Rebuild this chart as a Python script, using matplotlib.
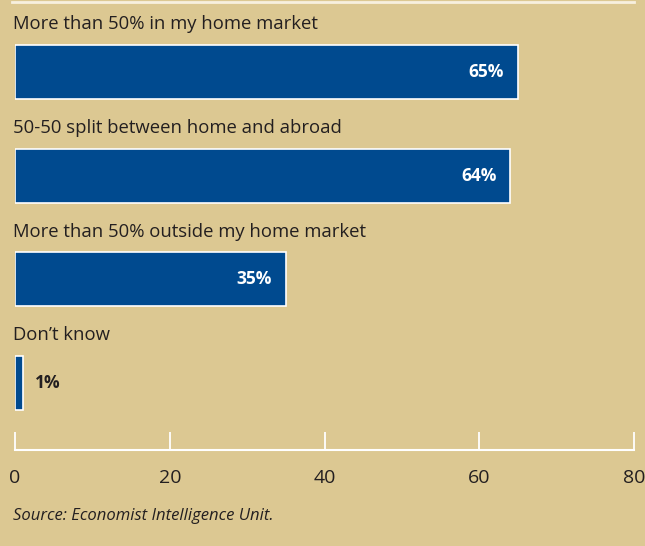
import matplotlib.pyplot as plt
from matplotlib.lines import Line2D

categories = [
    "More than 50% in my home market",
    "50-50 split between home and abroad",
    "More than 50% outside my home market",
    "Don\u2019t know",
]
values = [65, 64, 35, 1]
xticks = [0, 20, 40, 60, 80]
source = "Source: Economist Intelligence Unit."

bg = "#DCC892"
bar_color = "#004A8F"
text_color = "#231F20"
line_color = "#F7F0DF"

plt.rcParams["font.family"] = ["Open Sans", "DejaVu Sans"]

fig = plt.figure(figsize=(6.45, 5.46), dpi=100, facecolor=bg)
ax = fig.add_axes([15 / 645, 96 / 546, 619 / 645, 450 / 546])
ax.set_facecolor(bg)

pos = list(range(len(categories)))
ax.barh(pos, values, height=0.52, color=bar_color, edgecolor="white", linewidth=1.2)

ax.set_xlim(0, 80)
ax.set_ylim(3.644, -0.692)

# category labels above the bars
for i, name in enumerate(categories):
    ax.text(-0.25, i - 0.46, name, fontsize=13.3, color=text_color, ha="left", va="center")

# value labels
for i, v in enumerate(values):
    if v > 10:
        ax.text(v - 1.8, i, f"{v}%", fontsize=12.5, fontweight="bold", color="white",
                ha="right", va="center")
    else:
        ax.text(v + 1.6, i, f"{v}%", fontsize=12.5, fontweight="bold", color=text_color,
                ha="left", va="center")

for s in ["top", "right", "left"]:
    ax.spines[s].set_visible(False)
ax.spines["bottom"].set_color("white")
ax.spines["bottom"].set_linewidth(1.5)
ax.set_yticks([])
ax.set_xticks(xticks)
ax.tick_params(axis="x", direction="in", length=13, width=1.3, color="white",
               labelsize=14, labelcolor=text_color, pad=-4)
for lab in ax.get_xticklabels():
    lab.set_y(-0.055)

# thin rule at the top
fig.add_artist(Line2D([12 / 645, 634 / 645], [1 - 2 / 546, 1 - 2 / 546],
                      transform=fig.transFigure, color=line_color, linewidth=2))

fig.text(13 / 645, 1 - 516 / 546, source, fontsize=12, style="italic",
         color=text_color, ha="left", va="center")

fig.savefig("out.png", dpi=100, facecolor=bg)
